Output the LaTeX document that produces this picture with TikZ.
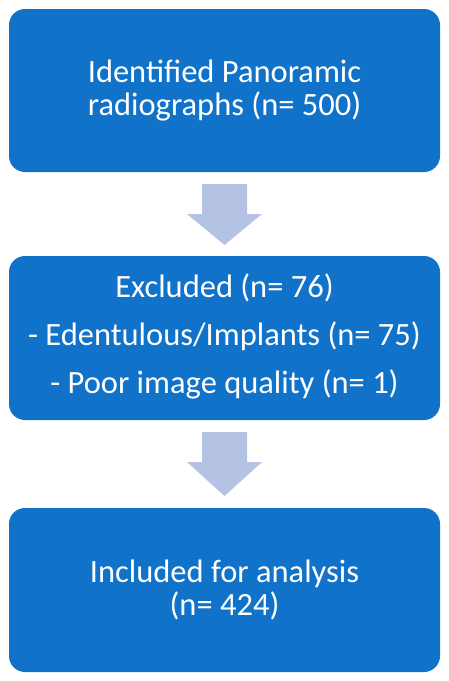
\documentclass[tikz,border=0pt]{standalone}
\usepackage{fontspec}
\setmainfont{Carlito}
\definecolor{boxblue}{RGB}{16,114,200}
\definecolor{arrowblue}{RGB}{180,194,228}
\begin{document}
\begin{tikzpicture}[x=1pt,y=-1pt,
  box/.style={fill=boxblue,rounded corners=16pt},
  txt/.style={text=white,font=\fontsize{32.5}{33}\selectfont,anchor=base,inner sep=0pt},
  darrow/.style={fill=arrowblue}]
\useasboundingbox (0,0) rectangle (448,681);
\fill[box] (9,9) rectangle (440,172);
\fill[box] (9,256) rectangle (440,420);
\fill[box] (9,508) rectangle (440,672);
\node[txt] (a1) at (224.5,82) {Identified Panoramic};
\node[txt] (a2) at (224.5,115) {radiographs (n= 500)};
\node[txt] (b1) at (224.5,297) {Excluded (n= 76)};
\node[txt] (b2) at (224.5,345) {- Edentulous/Implants (n= 75)};
\node[txt] (b3) at (224.5,393) {- Poor image quality (n= 1)};
\node[txt] (c1) at (224.5,582) {Included for analysis};
\node[txt] (c2) at (224.5,615) {(n= 424)};
\fill[darrow] (202,184) -- (247,184) -- (247,214) -- (262,214) -- (224.5,245) -- (187,214) -- (202,214) -- cycle;
\fill[darrow] (202,432) -- (247,432) -- (247,462) -- (262,462) -- (224.5,496) -- (187,462) -- (202,462) -- cycle;
\end{tikzpicture}
\end{document}
